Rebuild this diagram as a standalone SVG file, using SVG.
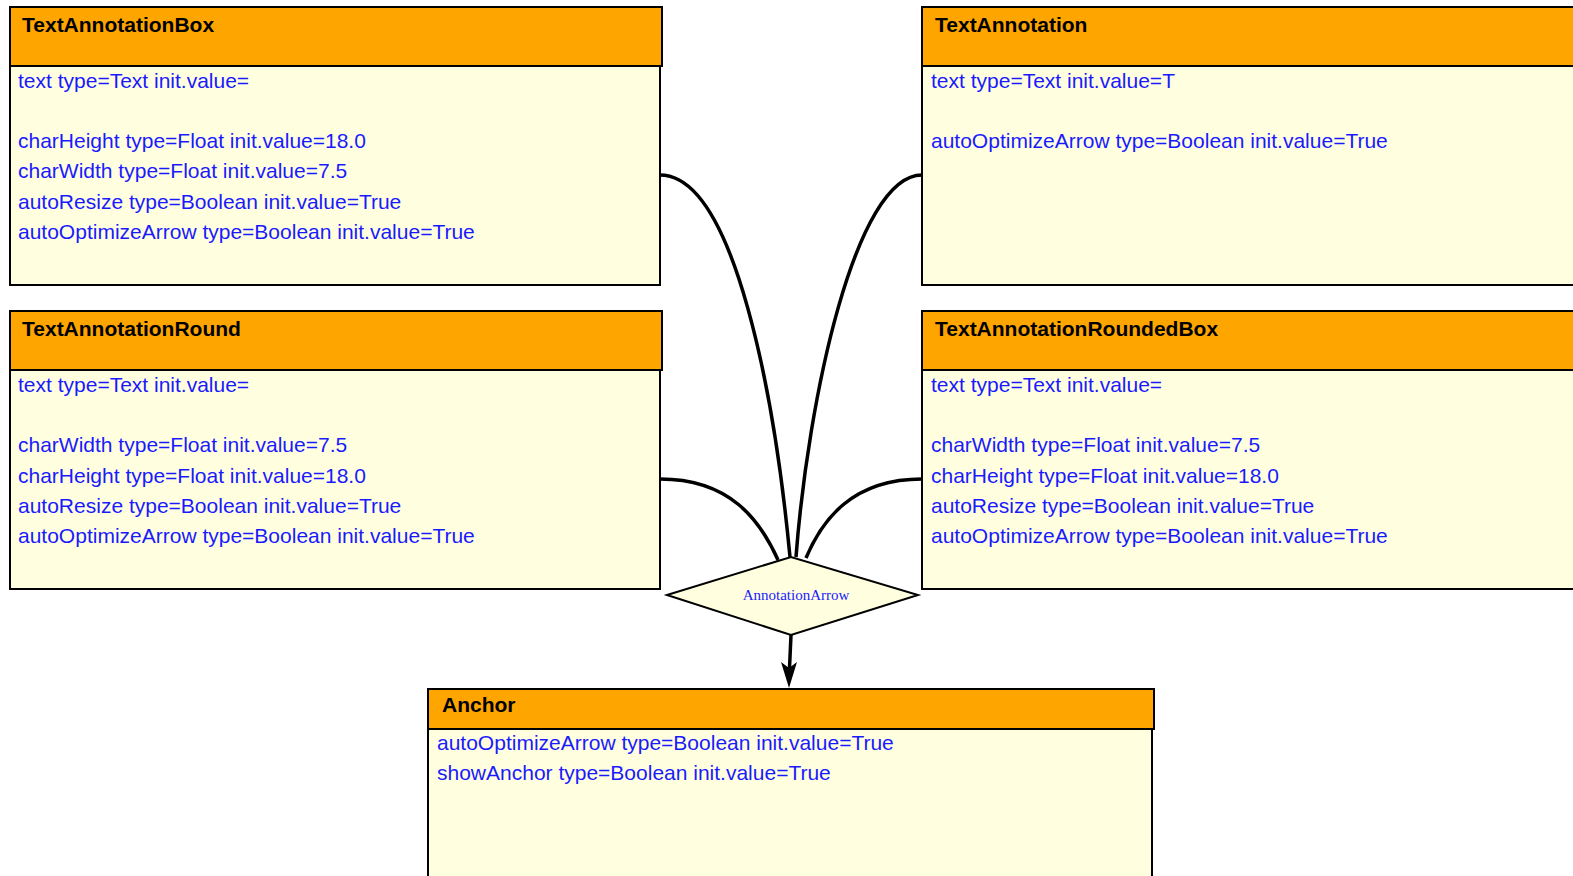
<svg xmlns="http://www.w3.org/2000/svg" width="1573" height="876" viewBox="0 0 1573 876">
<defs>
<style>
.hdr{fill:#FFA500;stroke:#000;stroke-width:2}
.body{fill:#FFFFE0;stroke:#000;stroke-width:2}
.title{font-family:"Liberation Sans",Arial,sans-serif;font-weight:bold;font-size:21px;fill:#000}
.attr{font-family:"Liberation Sans",Arial,sans-serif;font-size:21px;fill:#1a1aff}
.edge{fill:none;stroke:#000;stroke-width:3.5}
.dia{fill:#FFFFE0;stroke:#000;stroke-width:2}
.dlabel{font-family:"Liberation Serif","Times New Roman",serif;font-size:15px;fill:#1a1aff}
</style>
</defs>
<rect width="1573" height="876" fill="#fff"/>
<g id="connectors">
<path class="edge" d="M660,175 C735,175 775,400 790,557"/>
<path class="edge" d="M922,175 C855,175 808,400 796,557"/>
<path class="edge" d="M660,479 C730,479 760,520 778,560"/>
<path class="edge" d="M922,479 C852,479 822,520 806,558"/>
<path class="edge" d="M791,635 L789.5,668"/>
<path d="M781,662 L789,688 L797,662 L789,668 Z" fill="#000"/>
</g>
<g id="TextAnnotationBox">
<rect class="body" x="10" y="66" width="650" height="219"/>
<rect class="hdr" x="10" y="7" width="652" height="59"/>
<text class="title" x="22" y="32">TextAnnotationBox</text>
<text class="attr" x="18" y="88">text type=Text init.value=</text>
<text class="attr" x="18" y="148">charHeight type=Float init.value=18.0</text>
<text class="attr" x="18" y="178">charWidth type=Float init.value=7.5</text>
<text class="attr" x="18" y="209">autoResize type=Boolean init.value=True</text>
<text class="attr" x="18" y="239">autoOptimizeArrow type=Boolean init.value=True</text>
</g>
<g id="TextAnnotation">
<rect class="body" x="922" y="66" width="700" height="219"/>
<rect class="hdr" x="922" y="7" width="700" height="59"/>
<text class="title" x="935" y="32">TextAnnotation</text>
<text class="attr" x="931" y="88">text type=Text init.value=T</text>
<text class="attr" x="931" y="148">autoOptimizeArrow type=Boolean init.value=True</text>
</g>
<g id="TextAnnotationRound">
<rect class="body" x="10" y="370" width="650" height="219"/>
<rect class="hdr" x="10" y="311" width="652" height="59"/>
<text class="title" x="22" y="336">TextAnnotationRound</text>
<text class="attr" x="18" y="392">text type=Text init.value=</text>
<text class="attr" x="18" y="452">charWidth type=Float init.value=7.5</text>
<text class="attr" x="18" y="483">charHeight type=Float init.value=18.0</text>
<text class="attr" x="18" y="513">autoResize type=Boolean init.value=True</text>
<text class="attr" x="18" y="543">autoOptimizeArrow type=Boolean init.value=True</text>
</g>
<g id="TextAnnotationRoundedBox">
<rect class="body" x="922" y="370" width="700" height="219"/>
<rect class="hdr" x="922" y="311" width="700" height="59"/>
<text class="title" x="935" y="336">TextAnnotationRoundedBox</text>
<text class="attr" x="931" y="392">text type=Text init.value=</text>
<text class="attr" x="931" y="452">charWidth type=Float init.value=7.5</text>
<text class="attr" x="931" y="483">charHeight type=Float init.value=18.0</text>
<text class="attr" x="931" y="513">autoResize type=Boolean init.value=True</text>
<text class="attr" x="931" y="543">autoOptimizeArrow type=Boolean init.value=True</text>
</g>
<g id="AnnotationArrow">
<polygon class="dia" points="667,595 791,557 918,595 791,635"/>
<text class="dlabel" x="796" y="600" text-anchor="middle">AnnotationArrow</text>
</g>
<g id="Anchor">
<rect class="body" x="428" y="729" width="724" height="170"/>
<rect class="hdr" x="428" y="689" width="726" height="40"/>
<text class="title" x="442" y="712">Anchor</text>
<text class="attr" x="437" y="750">autoOptimizeArrow type=Boolean init.value=True</text>
<text class="attr" x="437" y="780">showAnchor type=Boolean init.value=True</text>
</g>
</svg>
